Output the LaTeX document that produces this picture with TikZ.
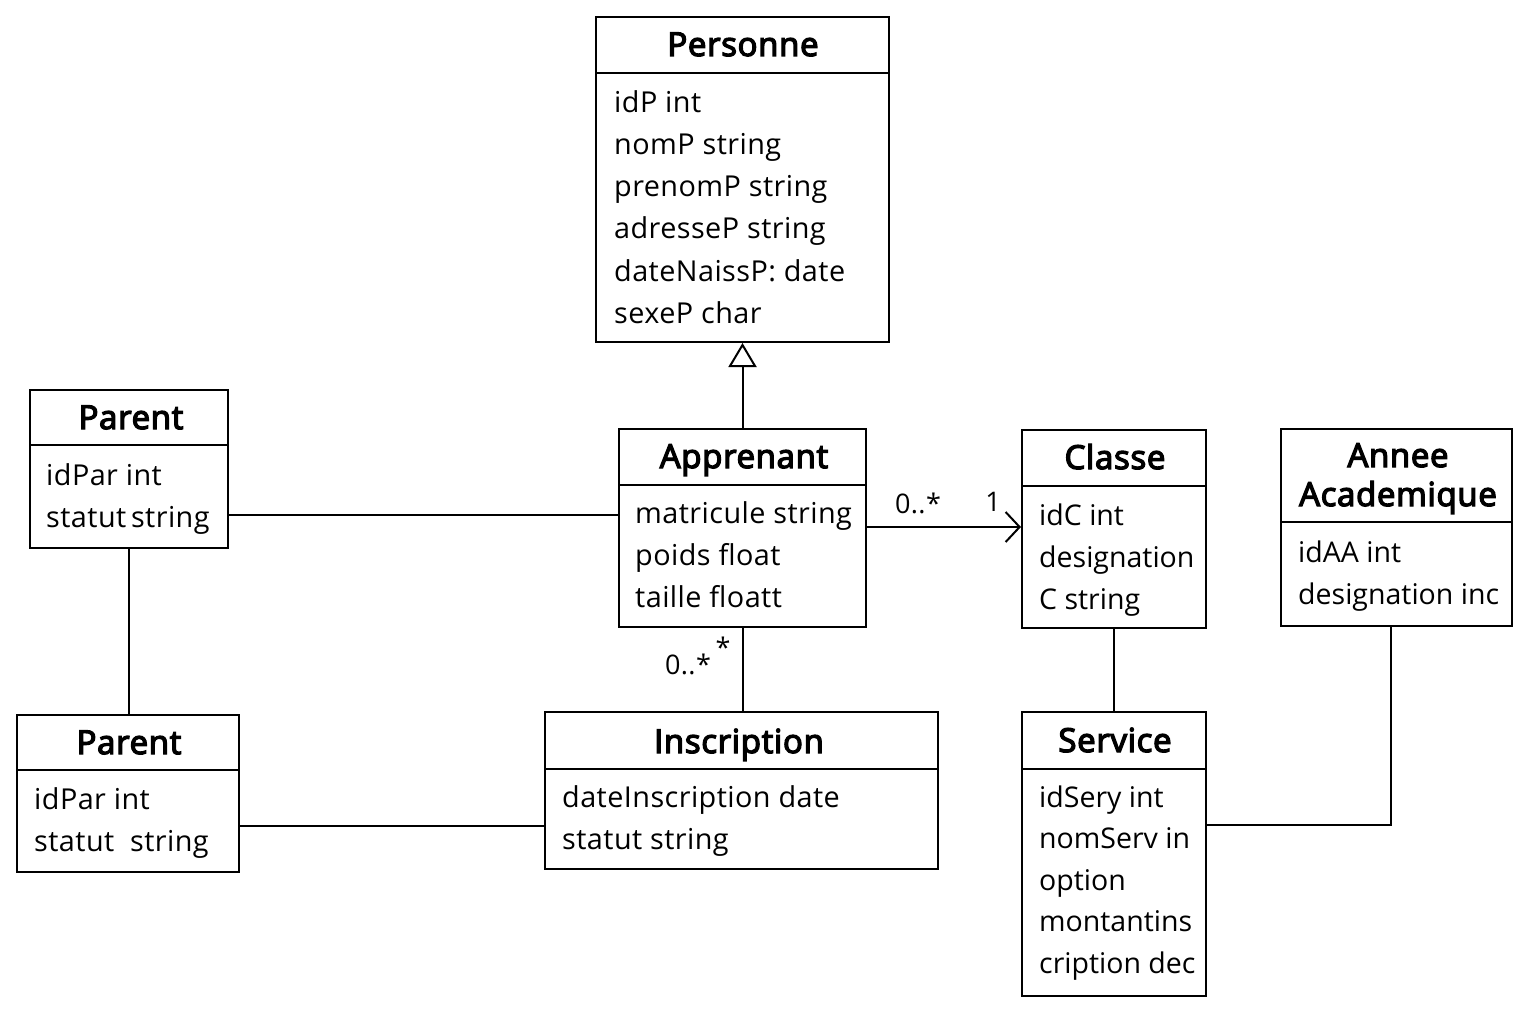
\documentclass[tikz,border=0pt]{standalone}
\usepackage{fontspec}
\setmainfont{Open Sans}[LetterSpace=1.5]
\newfontfamily\ttlfont{Open Sans}[FakeBold=4,LetterSpace=2]
\usetikzlibrary{arrows.meta}
\tikzset{
  ln/.style={line width=2pt, black},
  umlbox/.style={draw, line width=2pt, inner sep=0pt, fill=white},
  ttl/.style={inner sep=0pt, anchor=base, font=\ttlfont\fontsize{33}{38}\selectfont},
  attr/.style={inner sep=0pt, anchor=base west, font=\fontsize{28.8}{34}\selectfont},
  tight/.style={font=\fontsize{28.5}{34}\selectfont\addfontfeature{LetterSpace=0}},
  mult/.style={inner sep=0pt, font=\fontsize{27}{32}\selectfont},
}
\begin{document}
\begin{tikzpicture}[x=1pt,y=-1pt]
\useasboundingbox[fill=white] (0,0) rectangle (1536,1024);

% Personne
\node[umlbox, minimum width=293pt, minimum height=325pt] (pers) at (742.5,179.5) {};
\draw[ln] (pers.west |- 0,73) -- (pers.east |- 0,73);
\node[ttl] (persT) at (743,56) {Personne};
\foreach \t [count=\i] in {idP int, nomP string, prenomP string, adresseP string, dateNaissP: date, sexeP char}
  \node[attr] (persA\i) at (614,{113+42*(\i-1)}) {\t};

% Apprenant
\node[umlbox, minimum width=247pt, minimum height=198pt] (appr) at (742.5,528) {};
\draw[ln] (appr.west |- 0,485) -- (appr.east |- 0,485);
\node[ttl] (apprT) at (744,468) {Apprenant};
\foreach \t [count=\i] in {matricule string, poids float, taille floatt}
  \node[attr] (apprA\i) at (635,{523+42*(\i-1)}) {\t};

% Parent 1
\node[umlbox, minimum width=198pt, minimum height=158pt] (parA) at (129,469) {};
\draw[ln] (parA.west |- 0,445) -- (parA.east |- 0,445);
\node[ttl] (parAT) at (131,429) {Parent};
\node[attr] (parAA1) at (46,485) {idPar int};
\node[attr] (parAA2) at (46,527) {statut\,string};

% Parent 2
\node[umlbox, minimum width=222pt, minimum height=157pt] (parB) at (128,793.5) {};
\draw[ln] (parB.west |- 0,770) -- (parB.east |- 0,770);
\node[ttl] (parBT) at (129,754) {Parent};
\node[attr] (parBA1) at (34,809) {idPar int};
\node[attr] (parBA2) at (34,851) {statut\ \ string};

% Inscription
\node[umlbox, minimum width=393pt, minimum height=157pt] (insc) at (741.5,790.5) {};
\draw[ln] (insc.west |- 0,769) -- (insc.east |- 0,769);
\node[ttl] (inscT) at (739,753) {Inscription};
\node[attr] (inscA1) at (562,807) {dateInscription date};
\node[attr] (inscA2) at (562,849) {statut string};

% Classe
\node[umlbox, minimum width=184pt, minimum height=198pt] (cls) at (1114,529) {};
\draw[ln] (cls.west |- 0,486) -- (cls.east |- 0,486);
\node[ttl] (clsT) at (1115,469) {Classe};
\foreach \t [count=\i] in {idC int, designation, C string}
  \node[attr, tight] (clsA\i) at (1039,{525+42*(\i-1)}) {\t};

% Annee Academique
\node[umlbox, minimum width=231pt, minimum height=197pt] (annee) at (1396.5,527.5) {};
\draw[ln] (annee.west |- 0,522) -- (annee.east |- 0,522);
\node[ttl] (anneeT1) at (1398,467) {Annee};
\node[ttl] (anneeT2) at (1398,506) {Academique};
\node[attr, tight] (anneeA1) at (1298,562) {idAA int};
\node[attr, tight] (anneeA2) at (1298,604) {designation inc};

% Service
\node[umlbox, minimum width=184pt, minimum height=284pt] (serv) at (1114,854) {};
\draw[ln] (serv.west |- 0,769) -- (serv.east |- 0,769);
\node[ttl] (servT) at (1115,752) {Service};
\foreach \t [count=\i] in {idSery int, nomServ in, option, montantins, cription dec}
  \node[attr, tight] (servA\i) at (1039,{807+41.5*(\i-1)}) {\t};

% Connectors
\draw[ln, -{Triangle[open, width=28pt, length=24pt, line width=2pt]}] (appr.north) -- (pers.south);
\draw[ln] (parA.east |- 0,515) -- (appr.west |- 0,515);
\draw[ln] (parA.south) -- (parA.south |- parB.north);
\draw[ln, -{Straight Barb[length=14pt, width=30pt, line width=2pt]}] (appr.east |- 0,527) -- (cls.west |- 0,527);
\draw[ln] (appr.south) -- (appr.south |- insc.north);
\draw[ln] (parB.east |- 0,826) -- (insc.west |- 0,826);
\draw[ln] (cls.south) -- (serv.north);
\coordinate (anneeFoot) at (1391,626);
\draw[ln] (serv.east |- 0,825) -| (anneeFoot);

% Multiplicities
\node[mult] (m1) at (918,503) {0..*};
\node[mult] (m2) at (993,502) {1};
\node[mult] (m3) at (688,664) {0..*};
\node[mult] (m4) at (723,647) {*};
\end{tikzpicture}
\end{document}
